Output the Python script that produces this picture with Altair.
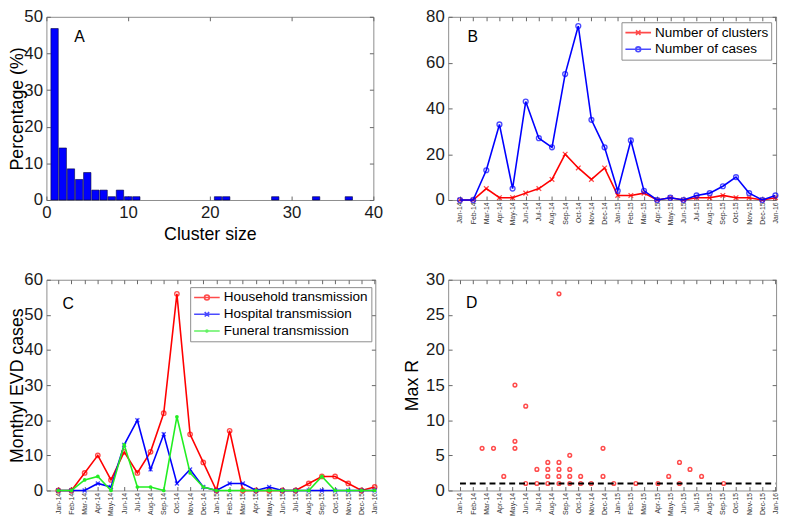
import altair as alt
import pandas as pd

# ---------------- data ----------------
months = ["Jan-14", "Feb-14", "Mar-14", "Apr-14", "May-14", "Jun-14", "Jul-14", "Aug-14",
          "Sep-14", "Oct-14", "Nov-14", "Dec-14", "Jan-15", "Feb-15", "Mar-15", "Apr-15",
          "May-15", "Jun-15", "Jul-15", "Aug-15", "Sep-15", "Oct-15", "Nov-15", "Dec-15", "Jan-16"]

# Panel A: cluster size distribution (%)
cluster_size = [1, 2, 3, 4, 5, 6, 7, 8, 9, 10, 11, 21, 22, 28, 33, 37]
cluster_pct = [46.8, 14.2, 8.5, 5.6, 7.5, 2.7, 2.7, 0.9, 2.7, 0.9, 0.9, 0.9, 0.9, 0.9, 0.9, 0.9]

# Panel B: monthly clusters and cases
n_clusters = [0, 0, 5, 1, 1, 3, 5, 9, 20, 14, 9, 14, 2, 2, 3, 0, 1, 0, 1, 1, 2, 1, 1, 0, 1]
n_cases = [0, 0, 13, 33, 5, 43, 27, 23, 55, 76, 35, 23, 4, 26, 4, 0, 1, 0, 2, 3, 6, 10, 3, 0, 2]

# Panel C: monthly EVD cases by transmission setting
household = [0, 0, 5, 10, 3, 11, 5, 11, 22, 56, 16, 8, 0, 17, 0, 0, 0, 0, 0, 2, 4, 4, 2, 0, 1]
hospital = [0, 0, 0, 2, 1, 13, 20, 6, 16, 2, 6, 1, 0, 2, 2, 0, 1, 0, 0, 0, 0, 0, 0, 0, 0]
funeral = [0, 0, 3, 4, 0, 13, 1, 1, 0, 21, 5, 1, 0, 0, 0, 0, 0, 0, 0, 0, 4, 0, 0, 0, 0]

# Panel D: max R of clusters (x in months since Jan-14)
d_month = [1.68, 2.55, 3.33, 4.18, 4.18, 4.18, 5.0, 5.0, 5.85, 5.85,
           6.68, 6.68, 6.68, 6.68, 7.53, 7.53, 7.53, 7.53, 7.53,
           8.35, 8.35, 8.35, 8.35, 9.18, 9.18, 9.98, 10.88, 10.88, 11.7,
           13.38, 15.06, 15.88, 16.7, 16.7, 17.5, 18.38, 20.06]
d_maxr = [6, 6, 2, 15, 7, 6, 12, 1, 3, 1,
          4, 3, 2, 1, 28, 4, 3, 2, 1,
          5, 3, 2, 1, 2, 1, 1, 6, 2, 1,
          1, 1, 2, 4, 1, 3, 2, 1]
ref_x = [0, 24]
ref_y = [1, 1]

b_series = ["Number of clusters", "Number of cases"]
c_series = ["Household transmission", "Hospital transmission", "Funeral transmission"]

# ---------------- style ----------------
FONT = "Liberation Sans"
RED, BLUE, GREEN = "#ff0000", "#0000ff", "#22ee22"
FRAME = "#8c8c8c"
TICKC = "#666666"
TXT = "#1a1a1a"
TIN = 4  # inward tick length

X_PATH = "M-1,-1L1,1M-1,1L1,-1"
LEG_O = "M-1,0H3M0.62,0A0.38,0.38,0,1,0,1.38,0A0.38,0.38,0,1,0,0.62,0"
LEG_X = "M-1,0H3M0.65,-0.35L1.35,0.35M0.65,0.35L1.35,-0.35"
LEG_DOT = "M-1,0H3M0.84,0A0.16,0.16,0,1,0,1.16,0A0.16,0.16,0,1,0,0.84,0"

WA, HA = 332, 186
WB, HB = 333, 186
WC, HC = 334, 214
WD, HD = 333, 214

month_expr = "[" + ",".join("'%s'" % m for m in months) + "][datum.value]"
month_ticks = list(range(len(months)))
xs_time = alt.Scale(domain=[-0.9, 24.05], nice=False, zero=False)


def ax_left(values, height, title=None, tx=20):
    kw = dict(orient="left", values=values, offset=-TIN, tickSize=TIN, tickColor=TICKC,
              domain=False, grid=False, labelFontSize=17, labelColor=TXT, labelFont=FONT,
              labelPadding=4, labelOverlap=False, labelFlush=False)
    if title:
        kw.update(title=title, titleFontSize=18, titleFont=FONT, titleFontWeight="normal",
                  titleColor="black", titleAngle=270, titleBaseline="bottom", titleAlign="center",
                  titleX=-(tx + TIN), titleY=height / 2)
    else:
        kw.update(title=None)
    return alt.Axis(**kw)


def ax_right(values):
    return alt.Axis(orient="right", values=values, offset=-TIN, tickSize=TIN, tickColor=TICKC,
                    domain=False, grid=False, labels=False, title=None)


def ax_top(values):
    return alt.Axis(orient="top", values=values, offset=-TIN, tickSize=TIN, tickColor=TICKC,
                    domain=False, grid=False, labels=False, title=None)


def ax_months():
    return alt.Axis(orient="bottom", values=month_ticks, labelExpr=month_expr, offset=-TIN,
                    tickSize=TIN, tickColor=TICKC, domain=False, grid=False, labelAngle=270,
                    labelAlign="right", labelBaseline="middle", labelFontSize=7, labelFont=FONT,
                    labelColor="#333333", labelPadding=2, labelOverlap=False, labelFlush=False,
                    title=None)


def letter(txt, x, y):
    return alt.Chart(pd.DataFrame({"t": [txt]})).mark_text(
        font=FONT, fontSize=16, color="black", align="center", baseline="middle"
    ).encode(text="t:N", x=alt.value(x), y=alt.value(y))


def legend(x, y):
    return alt.Legend(title=None, orient="none", legendX=x, legendY=y, fillColor="white",
                      strokeColor=FRAME, padding=3, cornerRadius=0, labelFont=FONT,
                      labelFontSize=13.7, labelColor="black", labelLimit=400, symbolSize=169,
                      symbolStrokeWidth=1.6, labelOffset=16, rowPadding=2)


# ---------------- panel A ----------------
dfA = pd.DataFrame({"size": cluster_size, "pct": cluster_pct})
xsA = alt.Scale(domain=[0, 40], nice=False)
ysA = alt.Scale(domain=[0, 50], nice=False)
barsA = alt.Chart(dfA).transform_calculate(
    lo="datum.size - 0.45", hi="datum.size + 0.45"
).mark_rect(color=BLUE, stroke="#00003a", strokeWidth=0.6).encode(
    x=alt.X("lo:Q", scale=xsA, axis=alt.Axis(
        orient="bottom", values=[0, 10, 20, 30, 40], offset=-TIN, tickSize=TIN, tickColor=TICKC,
        domain=False, grid=False, labelFontSize=17, labelFont=FONT, labelColor=TXT, labelPadding=5,
        labelFlush=False, labelOverlap=False, title="Cluster size", titleFontSize=18,
        titleFont=FONT, titleFontWeight="normal", titleColor="black", titleBaseline="top",
        titleY=30.5)),
    x2="hi:Q",
    y=alt.Y("pct:Q", scale=ysA, axis=ax_left([0, 10, 20, 30, 40, 50], HA, "Percentage (%)")),
    y2=alt.datum(0),
)
mirrorA = alt.Chart(dfA).mark_point(opacity=0).encode(
    x=alt.X("size:Q", scale=xsA, axis=ax_top([0, 10, 20, 30, 40])),
    y=alt.Y("pct:Q", scale=ysA, axis=ax_right([0, 10, 20, 30, 40, 50])),
)
panelA = alt.layer(barsA, mirrorA, letter("A", 33.5, 20.5)).resolve_axis(
    x="independent", y="independent").properties(width=WA, height=HA)

# ---------------- panel B ----------------
ysB = alt.Scale(domain=[0, 80], nice=False)
dfB = pd.DataFrame({"m": month_ticks, "clusters": n_clusters, "cases": n_cases})
lineB1 = alt.Chart(dfB).mark_line(color=RED, strokeWidth=1.6).encode(
    x=alt.X("m:Q", scale=xs_time, axis=ax_months()),
    y=alt.Y("clusters:Q", scale=ysB, axis=ax_left([0, 20, 40, 60, 80], HB)))
ptB1 = alt.Chart(dfB).mark_point(shape=X_PATH, filled=False, color=RED, size=22, strokeWidth=1.3).encode(
    x=alt.X("m:Q", scale=xs_time, axis=None), y=alt.Y("clusters:Q", scale=ysB, axis=None))
lineB2 = alt.Chart(dfB).mark_line(color=BLUE, strokeWidth=1.6).encode(
    x=alt.X("m:Q", scale=xs_time, axis=None), y=alt.Y("cases:Q", scale=ysB, axis=None))
ptB2 = alt.Chart(dfB).mark_point(shape="circle", filled=False, color=BLUE, size=24, strokeWidth=1.4).encode(
    x=alt.X("m:Q", scale=xs_time, axis=None), y=alt.Y("cases:Q", scale=ysB, axis=None))
mirrorB = alt.Chart(dfB).mark_point(opacity=0).encode(
    x=alt.X("m:Q", scale=xs_time, axis=ax_top(month_ticks)),
    y=alt.Y("cases:Q", scale=ysB, axis=ax_right([0, 20, 40, 60, 80])))
legB = alt.Chart(pd.DataFrame({"sb": b_series})).transform_filter("false").mark_point(filled=False).encode(
    color=alt.Color("sb:N", scale=alt.Scale(domain=b_series, range=[RED, BLUE]), legend=legend(176, 5.5)),
    shape=alt.Shape("sb:N", scale=alt.Scale(domain=b_series, range=[LEG_X, LEG_O]), legend=legend(176, 5.5)))
panelB = alt.layer(lineB1, ptB1, lineB2, ptB2, mirrorB, legB, letter("B", 25, 20.5)).resolve_axis(
    x="independent", y="independent").properties(width=WB, height=HB)

# ---------------- panel C ----------------
ysC = alt.Scale(domain=[0, 60], nice=False)
dfC = pd.DataFrame({"m": month_ticks, "household": household, "hospital": hospital, "funeral": funeral})
lineC1 = alt.Chart(dfC).mark_line(color=RED, strokeWidth=1.6).encode(
    x=alt.X("m:Q", scale=xs_time, axis=ax_months()),
    y=alt.Y("household:Q", scale=ysC, axis=ax_left([0, 10, 20, 30, 40, 50, 60], HC, "Monthyl EVD cases")))
ptC1 = alt.Chart(dfC).mark_point(shape="circle", filled=False, color=RED, size=20, strokeWidth=1.4).encode(
    x=alt.X("m:Q", scale=xs_time, axis=None), y=alt.Y("household:Q", scale=ysC, axis=None))
lineC2 = alt.Chart(dfC).mark_line(color=BLUE, strokeWidth=1.6).encode(
    x=alt.X("m:Q", scale=xs_time, axis=None), y=alt.Y("hospital:Q", scale=ysC, axis=None))
ptC2 = alt.Chart(dfC).mark_point(shape=X_PATH, filled=False, color=BLUE, size=16, strokeWidth=1.3).encode(
    x=alt.X("m:Q", scale=xs_time, axis=None), y=alt.Y("hospital:Q", scale=ysC, axis=None))
lineC3 = alt.Chart(dfC).mark_line(color=GREEN, strokeWidth=1.6).encode(
    x=alt.X("m:Q", scale=xs_time, axis=None), y=alt.Y("funeral:Q", scale=ysC, axis=None))
ptC3 = alt.Chart(dfC).mark_point(shape="circle", filled=True, color=GREEN, size=14, opacity=1).encode(
    x=alt.X("m:Q", scale=xs_time, axis=None), y=alt.Y("funeral:Q", scale=ysC, axis=None))
mirrorC = alt.Chart(dfC).mark_point(opacity=0).encode(
    x=alt.X("m:Q", scale=xs_time, axis=ax_top(month_ticks)),
    y=alt.Y("household:Q", scale=ysC, axis=ax_right([0, 10, 20, 30, 40, 50, 60])))
legC = alt.Chart(pd.DataFrame({"sc": c_series})).transform_filter("false").mark_point(filled=False).encode(
    color=alt.Color("sc:N", scale=alt.Scale(domain=c_series, range=[RED, BLUE, GREEN]), legend=legend(146, 7.5)),
    shape=alt.Shape("sc:N", scale=alt.Scale(domain=c_series, range=[LEG_O, LEG_X, LEG_DOT]), legend=legend(146, 7.5)))
panelC = alt.layer(lineC1, ptC1, lineC2, ptC2, lineC3, ptC3, mirrorC, legC, letter("C", 22, 25)).resolve_axis(
    x="independent", y="independent").properties(width=WC, height=HC)

# ---------------- panel D ----------------
ysD = alt.Scale(domain=[0, 30], nice=False)
dfD = pd.DataFrame({"m": d_month, "r": d_maxr})
dfRef = pd.DataFrame({"m": ref_x, "r": ref_y})
ptD = alt.Chart(dfD).mark_point(shape="circle", filled=False, color=RED, size=14, strokeWidth=1.5).encode(
    x=alt.X("m:Q", scale=xs_time, axis=ax_months()),
    y=alt.Y("r:Q", scale=ysD, axis=ax_left([0, 5, 10, 15, 20, 25, 30], HD, "Max R", tx=27)))
refD = alt.Chart(dfRef).mark_line(color="black", strokeWidth=2, strokeDash=[6, 4]).encode(
    x=alt.X("m:Q", scale=xs_time, axis=None), y=alt.Y("r:Q", scale=ysD, axis=None))
mirrorD = alt.Chart(dfD).mark_point(opacity=0).encode(
    x=alt.X("m:Q", scale=xs_time, axis=ax_top(month_ticks)),
    y=alt.Y("r:Q", scale=ysD, axis=ax_right([0, 5, 10, 15, 20, 25, 30])))
panelD = alt.layer(ptD, refD, mirrorD, letter("D", 24, 24)).resolve_axis(
    x="independent", y="independent").properties(width=WD, height=HD)

chart = alt.concat(panelA, panelB, panelC, panelD, columns=2,
                   spacing={"row": 26, "column": 20}).resolve_scale(
    color="independent", shape="independent"
).resolve_legend(color="independent", shape="independent").properties(
    padding={"left": 0, "top": -5, "right": 0, "bottom": 0}
).configure(font=FONT).configure_view(stroke=FRAME, strokeWidth=1)

chart.save("out.html", embed_options={"renderer": "svg", "actions": False})
